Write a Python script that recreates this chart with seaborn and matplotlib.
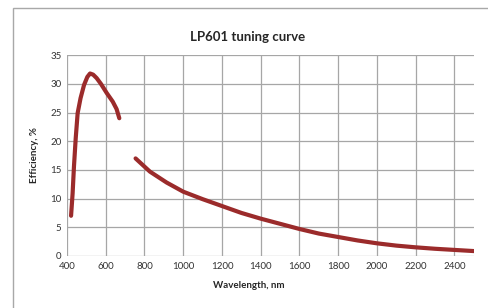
import numpy as np
import pandas as pd
import matplotlib.pyplot as plt
import matplotlib.patches as patches
import seaborn as sns

# visible branch of the tuning curve
wl_vis = [421, 429, 436, 445, 455, 470, 488, 505, 519, 535, 553, 575, 605, 636, 656, 670]
eff_vis = [7.0, 10.9, 15.6, 20.5, 24.9, 27.5, 29.8, 31.2, 31.8, 31.6, 31.0, 30.0, 28.4, 26.9, 25.6, 24.0]

# IR branch
wl_ir = [754, 828, 914, 1000, 1100, 1200, 1300, 1400, 1500, 1600, 1700, 1800, 1900, 2000, 2100, 2200, 2300, 2400, 2500]
eff_ir = [17.0, 14.7, 12.8, 11.2, 9.9, 8.7, 7.5, 6.5, 5.6, 4.7, 3.9, 3.3, 2.7, 2.2, 1.8, 1.5, 1.25, 1.05, 0.85]

sns.set_style("white")
plt.rcParams['font.family'] = ['Lato', 'DejaVu Sans']

fig = plt.figure(figsize=(4.89, 3.08), dpi=100)
ax = fig.add_axes([0.137, 0.169, 0.832, 0.652])

# outer chart frame
fig.patches.append(patches.Rectangle((13 / 489, -0.2), 1.2, 0.974 + 0.2,
                                     transform=fig.transFigure, fill=False,
                                     edgecolor='#a8a8a8', linewidth=1))

line_color = '#9b2b2b'
sns.lineplot(x=wl_vis, y=eff_vis, ax=ax, color=line_color, linewidth=3, sort=False)
sns.lineplot(x=wl_ir, y=eff_ir, ax=ax, color=line_color, linewidth=3, sort=False)

ax.set_xlim(400, 2500)
ax.set_ylim(0, 35)
ax.set_xticks(np.arange(400, 2401, 200))
ax.set_yticks(np.arange(0, 36, 5))
ax.grid(True, color='#a6a6a6', linewidth=0.9)
ax.set_axisbelow(True)
for s in ax.spines.values():
    s.set_visible(False)
ax.tick_params(labelsize=7, length=0, pad=4, colors='#333333')

ax.set_xlabel("Wavelength, nm", fontsize=7, fontweight='bold')
ax.xaxis.set_label_coords(0.447, -0.125)
ax.set_ylabel("Efficiency, %", fontsize=7, fontweight='bold', labelpad=8)
fig.text(248 / 489, 1 - 37 / 308, "LP601 tuning curve", fontsize=9.5,
         fontweight='bold', ha='center', va='center')

fig.savefig("out.png", dpi=100)
